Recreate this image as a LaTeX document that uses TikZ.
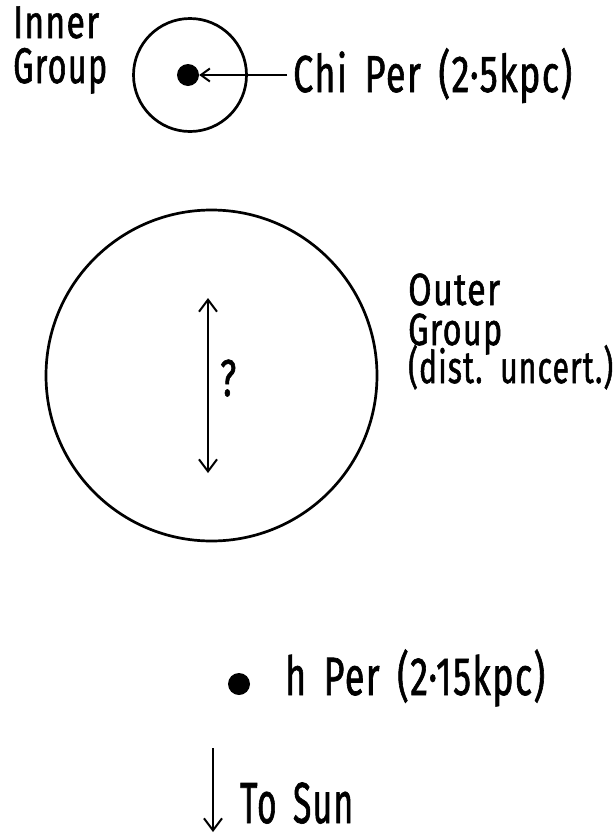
\documentclass[tikz,border=0pt]{standalone}
\usepackage{fontspec}
\setmainfont[FakeStretch=0.72, LetterSpace=3, WordSpace=1.6, FakeBold=1.2]{Fira Sans}
\usetikzlibrary{arrows.meta}
\newcommand\fitw[2]{\resizebox{#1}{\height}{#2}}
\begin{document}
\begin{tikzpicture}[x=1pt,y=-1pt,
  lbl/.style={font=\fontsize{52}{52}\selectfont, inner sep=0pt, anchor=base west},
  ring/.style={draw, circle, line width=2.7pt, inner sep=0pt},
  star/.style={circle, fill=black, inner sep=0pt},
  pointer/.style={line width=2pt, -{Straight Barb[length=9pt,width=13pt,line width=2pt]}},
  bigpointer/.style={line width=2pt, -{Straight Barb[length=12pt,width=18pt,line width=2pt]}},
  both/.style={line width=2pt, {Straight Barb[length=12pt,width=18pt,line width=2pt]}-{Straight Barb[length=12pt,width=18pt,line width=2pt]}}]
\useasboundingbox (0,0) rectangle (616,833);
% inner group
\node[ring, minimum size=113] (inner) at (190,75) {};
\node[star, minimum size=22] (chidot) at (188,75) {};
\node[lbl] (chilab) at (293,92) {\fitw{279pt}{Chi Per (2·5kpc)}};
\draw[pointer] ([xshift=-6pt]chidot.east -| chilab.west) -- (chidot.east);
\node[lbl, font=\fontsize{46}{46}\selectfont] (innerlab) at (13,38) {\fitw{86pt}{Inner}};
\node[lbl, font=\fontsize{50}{50}\selectfont] (grouplab) at (13,83) {\fitw{94pt}{Group}};
% outer group
\node[ring, minimum size=331] (outer) at (211.5,375.5) {};
\coordinate (qtop) at (208,298);
\coordinate (qbot) at (208,473);
\draw[both] (qtop) -- (qbot);
\node[lbl] (q) at (220,396) {\fitw{16pt}{?}};
\node[lbl, font=\fontsize{45}{45}\selectfont] (outerlab) at (408,305) {\fitw{92pt}{Outer}};
\node[lbl, font=\fontsize{45}{45}\selectfont] (outergroup) at (408,345) {\fitw{94pt}{Group}};
\node[lbl, font=\fontsize{45}{45}\selectfont] (uncert) at (408,383) {\fitw{205pt}{(dist. uncert.)}};
% h Per
\node[star, minimum size=22] (hdot) at (239,684) {};
\node[lbl, font=\fontsize{54}{54}\selectfont] (hlab) at (285,695) {\fitw{260pt}{h Per (2·15kpc)}};
% to sun
\coordinate (sunA) at (213,748);
\coordinate (sunB) at (213,832);
\draw[bigpointer] (sunA) -- (sunB);
\node[lbl, font=\fontsize{58}{58}\selectfont] (sunlab) at (240,823) {\fitw{113pt}{To Sun}};
\end{tikzpicture}
\end{document}
